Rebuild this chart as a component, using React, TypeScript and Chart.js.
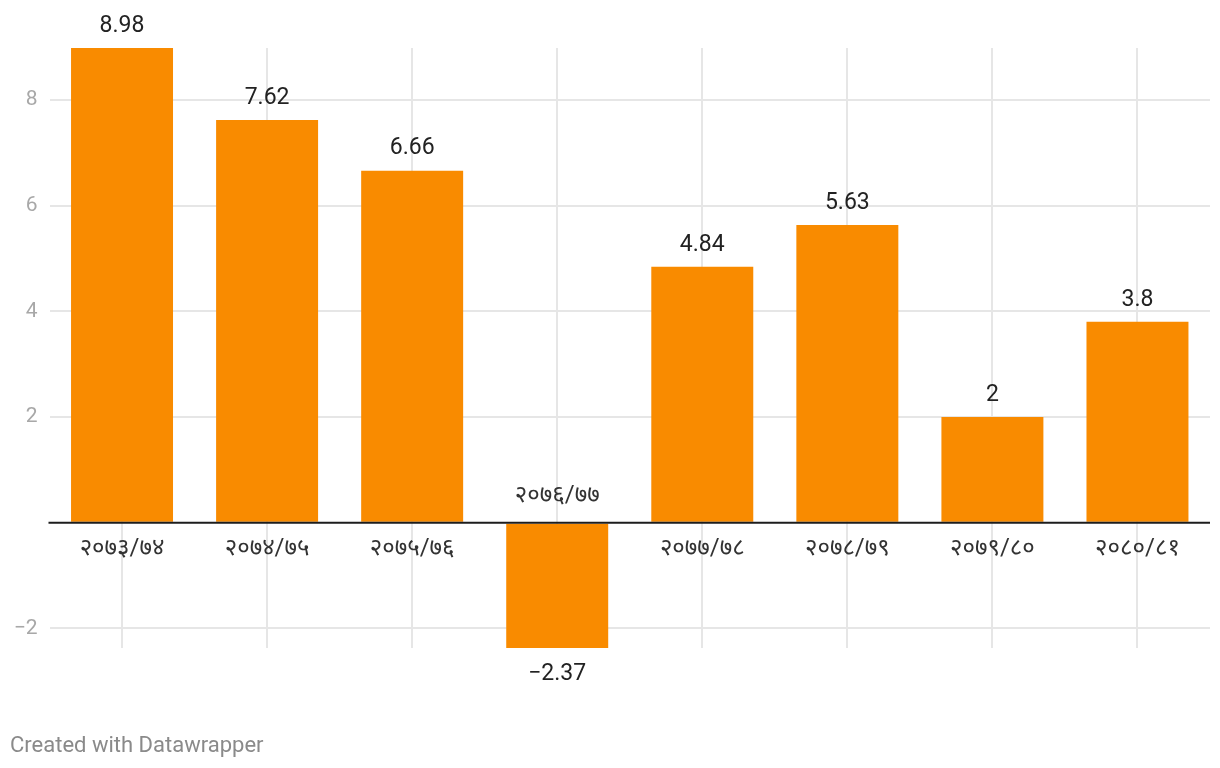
import React, { useEffect, useRef } from 'react';
import { Chart, registerables } from 'chart.js';

Chart.register(...registerables);

const categories = ['२०७३/७४', '२०७४/७५', '२०७५/७६', '२०७६/७७', '२०७७/७८', '२०७८/७९', '२०७९/८०', '२०८०/८१'];
const values = [8.98, 7.62, 6.66, -2.37, 4.84, 5.63, 2, 3.8];
const valueLabels = ['8.98', '7.62', '6.66', '−2.37', '4.84', '5.63', '2', '3.8'];
const yTicks = [-2, 0, 2, 4, 6, 8];

const overlayPlugin = {
  id: 'overlayLabels',
  afterDatasetsDraw(chart: any) {
    const ctx = chart.ctx;
    const meta = chart.getDatasetMeta(0);
    const yScale = chart.scales.y;
    const zeroY = yScale.getPixelForValue(0);
    const area = chart.chartArea;
    ctx.save();
    ctx.strokeStyle = '#1d1d1d';
    ctx.lineWidth = 2;
    ctx.beginPath();
    ctx.moveTo(area.left - 1, zeroY);
    ctx.lineTo(area.right, zeroY);
    ctx.stroke();
    ctx.textAlign = 'center';
    ctx.textBaseline = 'middle';
    meta.data.forEach((bar: any, i: number) => {
      const v = values[i];
      ctx.fillStyle = '#222222';
      ctx.font = '23px Roboto, "Noto Sans", sans-serif';
      ctx.fillText(valueLabels[i], bar.x, v >= 0 ? bar.y - 22 : bar.y + 26);
      ctx.fillStyle = '#333333';
      ctx.font = '24px Roboto, "Noto Sans", sans-serif';
      ctx.fillText(categories[i], bar.x, v >= 0 ? zeroY + 26 : zeroY - 27);
    });
    ctx.restore();
  },
};

export default function App() {
  const canvasRef = useRef<HTMLCanvasElement | null>(null);

  useEffect(() => {
    document.body.style.margin = '0';
    const canvas = canvasRef.current;
    if (!canvas) return;
    const chart = new Chart(canvas, {
      type: 'bar',
      data: {
        labels: categories,
        datasets: [
          {
            data: values,
            backgroundColor: '#f98b00',
            barPercentage: 0.703,
            categoryPercentage: 1,
          },
        ],
      },
      options: {
        animation: false,
        responsive: true,
        maintainAspectRatio: false,
        layout: { padding: { top: 48, bottom: 120, left: 0, right: 10 } },
        plugins: {
          legend: { display: false },
          tooltip: { enabled: false },
        },
        scales: {
          x: {
            grid: { display: true, offset: false, color: '#e6e6e6', lineWidth: 2, drawTicks: false },
            border: { display: false },
            ticks: { display: false },
          },
          y: {
            min: -2.37,
            max: 8.98,
            afterBuildTicks: (scale: any) => {
              scale.ticks = yTicks.map((v) => ({ value: v }));
            },
            afterFit: (scale: any) => {
              scale.width = 49.5;
            },
            grid: {
              color: (c: any) => (c.tick && c.tick.value === 0 ? 'rgba(0,0,0,0)' : '#e6e6e6'),
              lineWidth: 2,
              drawTicks: false,
            },
            border: { display: false },
            ticks: {
              color: '#a8a8a8',
              padding: 12,
              font: { family: 'Roboto', size: 21 },
              callback: (v: any) => (v === 0 ? '' : v < 0 ? '−' + Math.abs(v) : String(v)),
            },
          },
        },
      },
      plugins: [overlayPlugin],
    });
    return () => chart.destroy();
  }, []);

  return (
    <div style={{ position: 'relative', width: 1220, height: 768, background: '#fff' }}>
      <canvas ref={canvasRef} />
      <div
        style={{
          position: 'absolute',
          left: 10,
          top: 732,
          fontFamily: 'Roboto, sans-serif',
          fontSize: 22,
          color: '#8a8a8a',
          lineHeight: '26px',
        }}
      >
        Created with Datawrapper
      </div>
    </div>
  );
}
